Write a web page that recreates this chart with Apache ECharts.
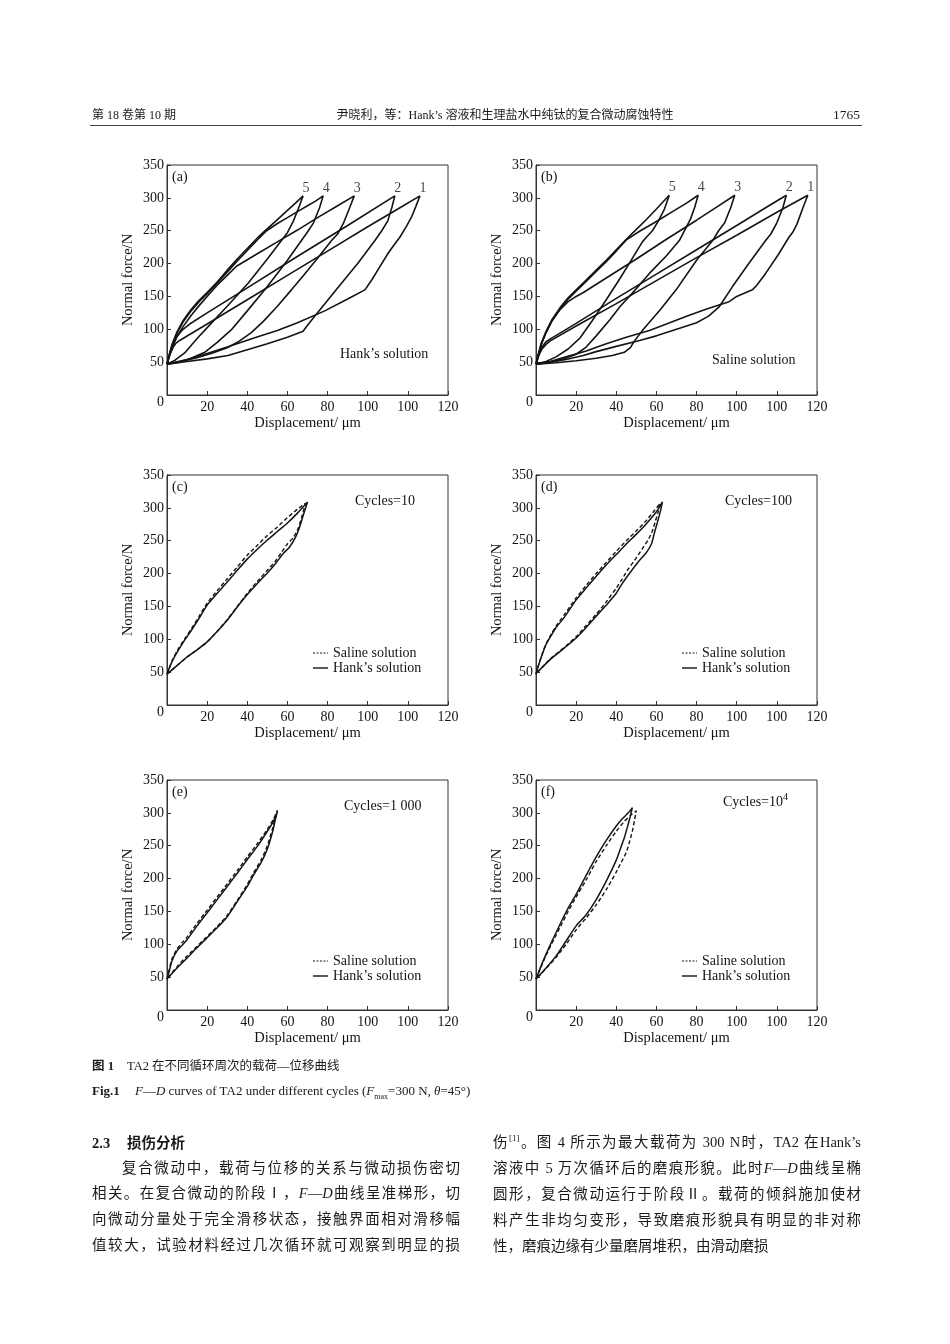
<!DOCTYPE html>
<html>
<head>
<meta charset="utf-8">
<script src="https://cdn.jsdelivr.net/npm/echarts@6/dist/echarts.min.js"></script>
<style>
  html,body{margin:0;padding:0;background:#fff;}
  #page{position:relative;width:950px;height:1344px;overflow:hidden;background:#fff;}
  #chart{position:absolute;left:0;top:0;width:950px;height:1344px;}
  .t{position:absolute;white-space:nowrap;color:#1a1a1a;font-family:"Liberation Serif","Noto Sans CJK SC";z-index:2;}
  .hd{font-size:12px;line-height:16px;top:107px;}
  .cap{font-size:12.5px;line-height:16px;}
  .ln{position:absolute;width:368px;font-size:14.5px;line-height:20px;height:20px;overflow:visible;
      font-family:"Liberation Serif","Noto Sans CJK SC";color:#1a1a1a;text-align:justify;text-align-last:justify;z-index:2;}
  .nl{text-align-last:left;}
  sup{font-size:9px;line-height:0;}
</style>
</head>
<body>
<div id="page">
<div id="chart"></div>

<div class="t hd" style="left:92px;">第 18 卷第 10 期</div>
<div class="t hd" style="left:505px;transform:translateX(-50%);">尹晓利，等：Hank’s 溶液和生理盐水中纯钛的复合微动腐蚀特性</div>
<div class="t hd" style="right:90px;font-size:13.5px;">1765</div>
<div style="position:absolute;left:90px;top:125px;width:772px;height:0;border-top:1px solid #444;z-index:2;"></div>

<div class="t cap" style="left:92px;top:1058px;"><b>图 1</b></div>
<div class="t cap" style="left:127px;top:1058px;">TA2 在不同循环周次的载荷—位移曲线</div>
<div class="t cap" style="left:92px;top:1083px;font-size:13px;"><b>Fig.1</b></div>
<div class="t cap" style="left:135px;top:1083px;font-size:13px;"><i>F</i>—<i>D</i> curves of TA2 under different cycles (<i>F</i><sub style="font-size:8px;">max</sub>=300 N, <i>θ</i>=45°)</div>

<div class="t" style="left:92px;top:1133px;font-size:14.5px;line-height:20px;"><b>2.3</b></div>
<div class="t" style="left:127px;top:1133px;font-size:14.5px;line-height:20px;font-weight:bold;">损伤分析</div>
<div class="ln" style="left:122px;width:338px;top:1158px;">复合微动中，载荷与位移的关系与微动损伤密切</div>
<div class="ln" style="left:92px;top:1183px;">相关。在复合微动的阶段Ⅰ，<i>F</i>—<i>D</i>曲线呈准梯形，切</div>
<div class="ln" style="left:92px;top:1209px;">向微动分量处于完全滑移状态，接触界面相对滑移幅</div>
<div class="ln" style="left:92px;top:1235px;">值较大，试验材料经过几次循环就可观察到明显的损</div>

<div class="ln" style="left:493px;top:1132px;">伤<sup>[1]</sup>。图 4 所示为最大载荷为 300 N时，TA2 在Hank’s</div>
<div class="ln" style="left:493px;top:1158px;">溶液中 5 万次循环后的磨痕形貌。此时<i>F</i>—<i>D</i>曲线呈椭</div>
<div class="ln" style="left:493px;top:1184px;">圆形，复合微动运行于阶段Ⅱ。载荷的倾斜施加使材</div>
<div class="ln" style="left:493px;top:1210px;">料产生非均匀变形，导致磨痕形貌具有明显的非对称</div>
<div class="ln nl" style="left:493px;top:1236px;">性，磨痕边缘有少量磨屑堆积，由滑动磨损</div>
</div>

<script>
// ---------------- DATA ----------------
const xTickLabels = ['0', '20', '40', '60', '80', '100', '100', '120'];
const yTickLabels = ['0', '50', '100', '150', '200', '250', '300', '350'];
const panelLetters = ['(a)', '(b)', '(c)', '(d)', '(e)', '(f)'];
const loopNames = ['1', '2', '3', '4', '5'];
const panelNotes = ['Hank’s solution', 'Saline solution', 'Cycles=10', 'Cycles=100', 'Cycles=1 000', 'Cycles=10'];
const seriesNames = ['Saline solution', 'Hank’s solution'];

// panel (a), Hank's solution, loops 1..5 (loading branch then unloading branch)
const aLoop1 = [[0,47],[1.5,62],[3,72],[4.5,79],[6.3,83],[20,108],[40,145],[60,182],[80,219],[100,256],[115,283],[126,303],
  [124,287],[122,272],[119,255],[116,240],[113,228],[110,215],[106,195],[102,175],[98.6,160],[90,146],[78.6,128],[65,110],[55,98],[43.7,87],[30,73],[20,63],[10,54],[0,47]];
const aLoop2 = [[0,47],[2,70],[5,89],[8,100],[11.3,108],[20,125],[40,163],[64.5,210],[90,258],[113.5,303],
  [112,285],[110,265],[107,250],[103.6,235],[95,200],[85,163],[75,125],[70,106],[67.8,97],[60,88],[50,78],[40,69],[30.4,60],[20,55],[10,51],[0,47]];
const aLoop3 = [[0,47],[1,57],[2.5,72],[5,89],[8,104],[12,121],[16,136],[20,150],[25,167],[30,182],[34.6,196],[45,215],[55,233],[65,251],[75,270],[85,288],[93.3,303],
  [91,285],[88,262],[85,245],[82,235],[75,208],[68,182],[62,160],[55,135],[48,112],[42,95],[36,82],[30,72],[22,63],[14,56],[7,51],[0,47]];
const aLoop4 = [[0,47],[1,59],[2.5,75],[5,94],[8,111],[12,128],[16,142],[19.7,153],[25,170],[30,187],[35,204],[40,220],[45,236],[49.6,250],[55,261],[60,270],[65,279],[70,288],[74,295],[77.8,303],
  [76,285],[73,262],[70,248],[67,235],[60,205],[55,185],[48.7,160],[40,128],[32,99],[25,80],[18.8,65],[12,56],[6,50],[0,47]];
const aLoop5 = [[0,47],[1,60],[2.5,77],[5,96],[8,113],[12,130],[16,144],[19.7,155],[25,172],[30,190],[35,207],[40,223],[45,239],[49.6,252],[55,267],[60,281],[64,292],[67.8,303],
  [66,288],[63,265],[60,247],[57,235],[50,207],[40.4,170],[30,135],[22,109],[15,86],[8.8,64],[4,53],[0,47]];

// panel (b), saline solution, loops 1..5
const bLoop1 = [[0,47],[1.5,61],[3,70],[5,77],[6.9,82],[20,105],[40,139],[60,174],[80,209],[100,243],[120,278],[135.4,304],
  [133,285],[130,260],[128,248],[126,240],[121,215],[114.4,185],[110,167],[107.8,160],[100,150],[96.2,142],[85,131],[75,120],[65,108],[56.5,98],[45,88],[35,78],[25,67],[15,58],[7,51],[0,47]];
const bLoop2 = [[0,47],[1.5,63],[3,73],[5,81],[8,87],[20,109],[40,147],[60,184],[80,221],[100,258],[115,286],[124.7,304],
  [123,285],[120,262],[117,245],[114.4,235],[106,200],[97.9,165],[91.2,134],[86,120],[80,110],[70,100],[60,90],[51.6,83],[40,74],[30,66],[23.5,60],[15,54],[7,50],[0,47]];
const bLoop3 = [[0,47],[1.5,65],[3,80],[5,95],[8,113],[12,130],[16,142],[20,150],[23.6,156],[35,178],[50,207],[65,237],[80,266],[90,286],[99,304],
  [97,285],[94,262],[91,250],[88,235],[80,205],[69.8,160],[62,130],[53.2,99],[49,82],[47,72],[44,65],[38,60],[30,56],[20,52],[10,49],[0,47]];
const bLoop4 = [[0,47],[1,58],[2.5,76],[5,95],[8,113],[12,131],[16,146],[20,158],[25,173],[30,188],[35,203],[40,219],[45,236],[52,250],[60,264],[68,279],[75,292],[80.8,304],
  [79,285],[77,268],[74,250],[71.4,235],[65,212],[56.5,185],[48,155],[42,135],[36.7,114],[30,90],[25,73],[20,62],[14,55],[7,50],[0,47]];
const bLoop5 = [[0,47],[1,60],[2.5,78],[5,97],[8,115],[12,133],[16,148],[20,160],[25,175],[30,190],[35,205],[40,221],[45,237],[50,252],[55,267],[60,283],[63,293],[66.4,304],
  [64,283],[61,265],[58,250],[55,240],[53,233],[48,208],[42,178],[35,145],[28,113],[22,87],[16,70],[10,58],[5,51],[0,47]];

// panel (c) cycles = 10
const cSaline = [[0,47],[1,55],[2.5,67],[5,82],[8,97],[12,115],[16,135],[20,155],[25,174],[30,192],[35,210],[40,228],[45,243],[50,258],[55,271],[60,285],[65,298],[69,307],
  [67.5,290],[65.5,270],[63,255],[60,245],[57,232],[54,219],[50,205],[45,188],[40,170],[35,150],[30,130],[25,112],[20,96],[15,84],[10,73],[5,60],[0,47]];
const cHank = [[0,47],[1,55],[2.5,66],[5,80],[8,95],[12,113],[16,132],[20,152],[25,170],[30,187],[35,205],[40,222],[45,237],[50,251],[55,264],[60,277],[65,292],[70,309],
  [68,290],[66,270],[64,255],[61,240],[58,231],[54,215],[50,201],[45,185],[40,168],[35,149],[30,129],[25,112],[20,96],[15,84],[10,73],[5,60],[0,47]];

// panel (d) cycles = 100
const dSaline = [[0,47],[1,58],[3,77],[5,93],[8,110],[10,120],[14,137],[20,163],[25,182],[30,200],[35,217],[40,234],[45,250],[50,265],[55,281],[59,296],[62,307],
  [61,295],[59.5,280],[58,265],[56,252],[53,238],[50,224],[46,207],[43,192],[40,178],[35,157],[30,138],[25,121],[20,104],[15,90],[11,80],[7,70],[3,57],[0,48]];
const dHank = [[0,47],[1,58],[3,76],[5,92],[8,108],[10,118],[14,133],[20,160],[25,178],[30,196],[35,213],[40,229],[45,245],[50,260],[55,276],[60,294],[63,309],
  [62,295],[60.5,278],[59,262],[57.5,245],[55,232],[51,218],[47,202],[43,185],[40,170],[35,152],[30,135],[25,118],[20,102],[15,89],[11,79],[7,69],[3,57],[0,48]];

// panel (e) cycles = 1000
const eSaline = [[0,47],[1,60],[2.5,78],[5,93],[8,104],[10,111],[15,132],[20,152],[25,172],[30,192],[35,212],[40,233],[45,253],[50,275],[53,290],[55,304],
  [54,293],[52.5,275],[50,250],[47,229],[43,208],[40,191],[35,167],[30,144],[25,127],[20,112],[15,97],[10,82],[5,66],[0,47]];
const eHank = [[0,47],[1,58],[2.5,75],[5,90],[8,100],[10,107],[15,128],[20,148],[25,168],[30,188],[35,208],[40,229],[45,249],[50,272],[53,287],[55,302],
  [54,290],[52.5,270],[50,245],[47,225],[43,205],[40,188],[35,165],[30,142],[25,125],[20,110],[15,95],[10,79],[5,64],[0,47]];

// panel (f) cycles = 10^4
const fSaline = [[0,47],[2,62],[5,83],[8,102],[10,114],[13,132],[16,150],[20,172],[25,198],[30,226],[35,250],[40,272],[44,287],[47,296],[50,303],
  [49,288],[48,272],[46.5,255],[45,240],[42,222],[40,210],[35,183],[30,160],[25,140],[20,122],[15,100],[10,80],[5,63],[0,47]];
const fHank = [[0,47],[2,63],[5,85],[8,105],[10,118],[13,137],[16,155],[20,176],[25,205],[30,233],[35,258],[40,280],[43,291],[46,300],[48,308],
  [47,295],[45.5,278],[44,262],[42,245],[40,228],[35,196],[30,168],[25,145],[20,128],[15,105],[10,82],[5,64],[0,47]];

// ---------------- LAYOUT ----------------
const FONT = '"Liberation Serif", "Times New Roman", serif';
const INK = '#141414';
const boxes = [[167, 165], [536, 165], [167, 475], [536, 475], [167, 780], [536, 780]];
const GW = 281, GH = 230;
const DASH = [4, 2.5];

const chart = echarts.init(document.getElementById('chart'), null, {renderer: 'canvas'});

const grids = [], xAxes = [], yAxes = [], series = [], graphics = [];

boxes.forEach(function (b, i) {
  grids.push({left: b[0], top: b[1], width: GW, height: GH, show: true,
    borderColor: '#333', borderWidth: 1, backgroundColor: 'transparent', containLabel: false});
  xAxes.push({
    type: 'value', gridIndex: i, min: 0, max: 140, interval: 20,
    name: 'Displacement/ μm', nameLocation: 'middle', nameGap: 21,
    nameTextStyle: {fontFamily: FONT, fontSize: 14.5, color: INK},
    axisLine: {show: true, lineStyle: {color: '#333', width: 1}},
    axisTick: {show: true, inside: true, length: 4, lineStyle: {color: '#333'}},
    splitLine: {show: false},
    axisLabel: {fontFamily: FONT, fontSize: 14, color: INK, margin: 5,
      formatter: function (v) { return v === 0 ? '' : xTickLabels[Math.round(v / 20)]; }}
  });
  yAxes.push({
    type: 'value', gridIndex: i, min: 0, max: 350, interval: 50,
    name: 'Normal force/N', nameLocation: 'middle', nameGap: 31,
    nameTextStyle: {fontFamily: FONT, fontSize: 14.5, color: INK},
    axisLine: {show: true, lineStyle: {color: '#333', width: 1}},
    axisTick: {show: true, inside: true, length: 4, lineStyle: {color: '#333'}},
    splitLine: {show: false},
    axisLabel: {fontFamily: FONT, fontSize: 14, color: INK, margin: 3,
      formatter: function (v) {
        const s = yTickLabels[Math.round(v / 50)];
        return v === 0 ? '{z|' + s + '}' : s;
      },
      rich: {z: {fontFamily: FONT, fontSize: 14, color: INK, padding: [14, 0, 0, 0]}}}
  });
  graphics.push({type: 'text', x: b[0] + 5, y: b[1] + 12,
    style: {text: panelLetters[i], font: '14px ' + FONT, fill: INK, verticalAlign: 'middle', textVerticalAlign: 'middle'}});
});

function addLoops(loops, gi) {
  const peaks = [];
  loops.forEach(function (loop, k) {
    series.push({type: 'line', name: 'loop' + gi + '-' + loopNames[k], xAxisIndex: gi, yAxisIndex: gi,
      data: loop, symbol: 'none', showSymbol: false, smooth: false, silent: true, animation: false,
      lineStyle: {color: INK, width: 1.6}});
    let best = loop[0];
    loop.forEach(function (p) { if (p[1] > best[1]) best = p; });
    peaks.push({value: best, name: loopNames[k]});
  });
  series.push({type: 'scatter', xAxisIndex: gi, yAxisIndex: gi, data: peaks, symbolSize: 0.1,
    itemStyle: {color: 'rgba(0,0,0,0)'}, silent: true, animation: false,
    label: {show: true, formatter: '{b}', position: 'top', distance: 1, offset: [3, 0],
      fontFamily: FONT, fontSize: 14, color: INK}});
}
addLoops([aLoop1, aLoop2, aLoop3, aLoop4, aLoop5], 0);
addLoops([bLoop1, bLoop2, bLoop3, bLoop4, bLoop5], 1);

const pairs = [[cSaline, cHank], [dSaline, dHank], [eSaline, eHank], [fSaline, fHank]];
pairs.forEach(function (pr, j) {
  const gi = j + 2;
  series.push({type: 'line', name: seriesNames[0], xAxisIndex: gi, yAxisIndex: gi, data: pr[0],
    symbol: 'none', showSymbol: false, smooth: 0.2, silent: true, animation: false,
    lineStyle: {color: INK, width: 1.4, type: DASH}});
  series.push({type: 'line', name: seriesNames[1], xAxisIndex: gi, yAxisIndex: gi, data: pr[1],
    symbol: 'none', showSymbol: false, smooth: 0.2, silent: true, animation: false,
    lineStyle: {color: INK, width: 1.5, type: 'solid'}});
  // legend key drawn as line samples + text
  const b = boxes[gi];
  const lx = b[0] + 146, ly1 = b[1] + (gi < 4 ? 178 : 181), ly2 = ly1 + 15;
  graphics.push({type: 'line', shape: {x1: lx, y1: ly1, x2: lx + 15, y2: ly1},
    style: {stroke: INK, lineWidth: 1.2, lineDash: [2, 1.5]}});
  graphics.push({type: 'text', x: lx + 20, y: ly1,
    style: {text: seriesNames[0], font: '14px ' + FONT, fill: INK, verticalAlign: 'middle', textVerticalAlign: 'middle'}});
  graphics.push({type: 'line', shape: {x1: lx, y1: ly2, x2: lx + 15, y2: ly2},
    style: {stroke: INK, lineWidth: 1.4}});
  graphics.push({type: 'text', x: lx + 20, y: ly2,
    style: {text: seriesNames[1], font: '14px ' + FONT, fill: INK, verticalAlign: 'middle', textVerticalAlign: 'middle'}});
});

// in-plot notes
graphics.push({type: 'text', x: 340, y: 354, style: {text: panelNotes[0], font: '14px ' + FONT, fill: INK, verticalAlign: 'middle', textVerticalAlign: 'middle'}});
graphics.push({type: 'text', x: 712, y: 360, style: {text: panelNotes[1], font: '14px ' + FONT, fill: INK, verticalAlign: 'middle', textVerticalAlign: 'middle'}});
graphics.push({type: 'text', x: 355, y: 501, style: {text: panelNotes[2], font: '14px ' + FONT, fill: INK, verticalAlign: 'middle', textVerticalAlign: 'middle'}});
graphics.push({type: 'text', x: 725, y: 501, style: {text: panelNotes[3], font: '14px ' + FONT, fill: INK, verticalAlign: 'middle', textVerticalAlign: 'middle'}});
graphics.push({type: 'text', x: 344, y: 806, style: {text: panelNotes[4], font: '14px ' + FONT, fill: INK, verticalAlign: 'middle', textVerticalAlign: 'middle'}});
graphics.push({type: 'text', x: 723, y: 802, style: {
  text: '{a|' + panelNotes[5] + '}{s|4}', verticalAlign: 'middle', textVerticalAlign: 'middle',
  rich: {a: {fontFamily: FONT, fontSize: 14, fill: INK, color: INK},
         s: {fontFamily: FONT, fontSize: 10, fill: INK, color: INK, verticalAlign: 'top', padding: [0, 0, 9, 0]}}}});

chart.setOption({
  backgroundColor: 'transparent',
  animation: false,
  grid: grids,
  xAxis: xAxes,
  yAxis: yAxes,
  series: series,
  graphic: graphics
});
</script>
</body>
</html>
